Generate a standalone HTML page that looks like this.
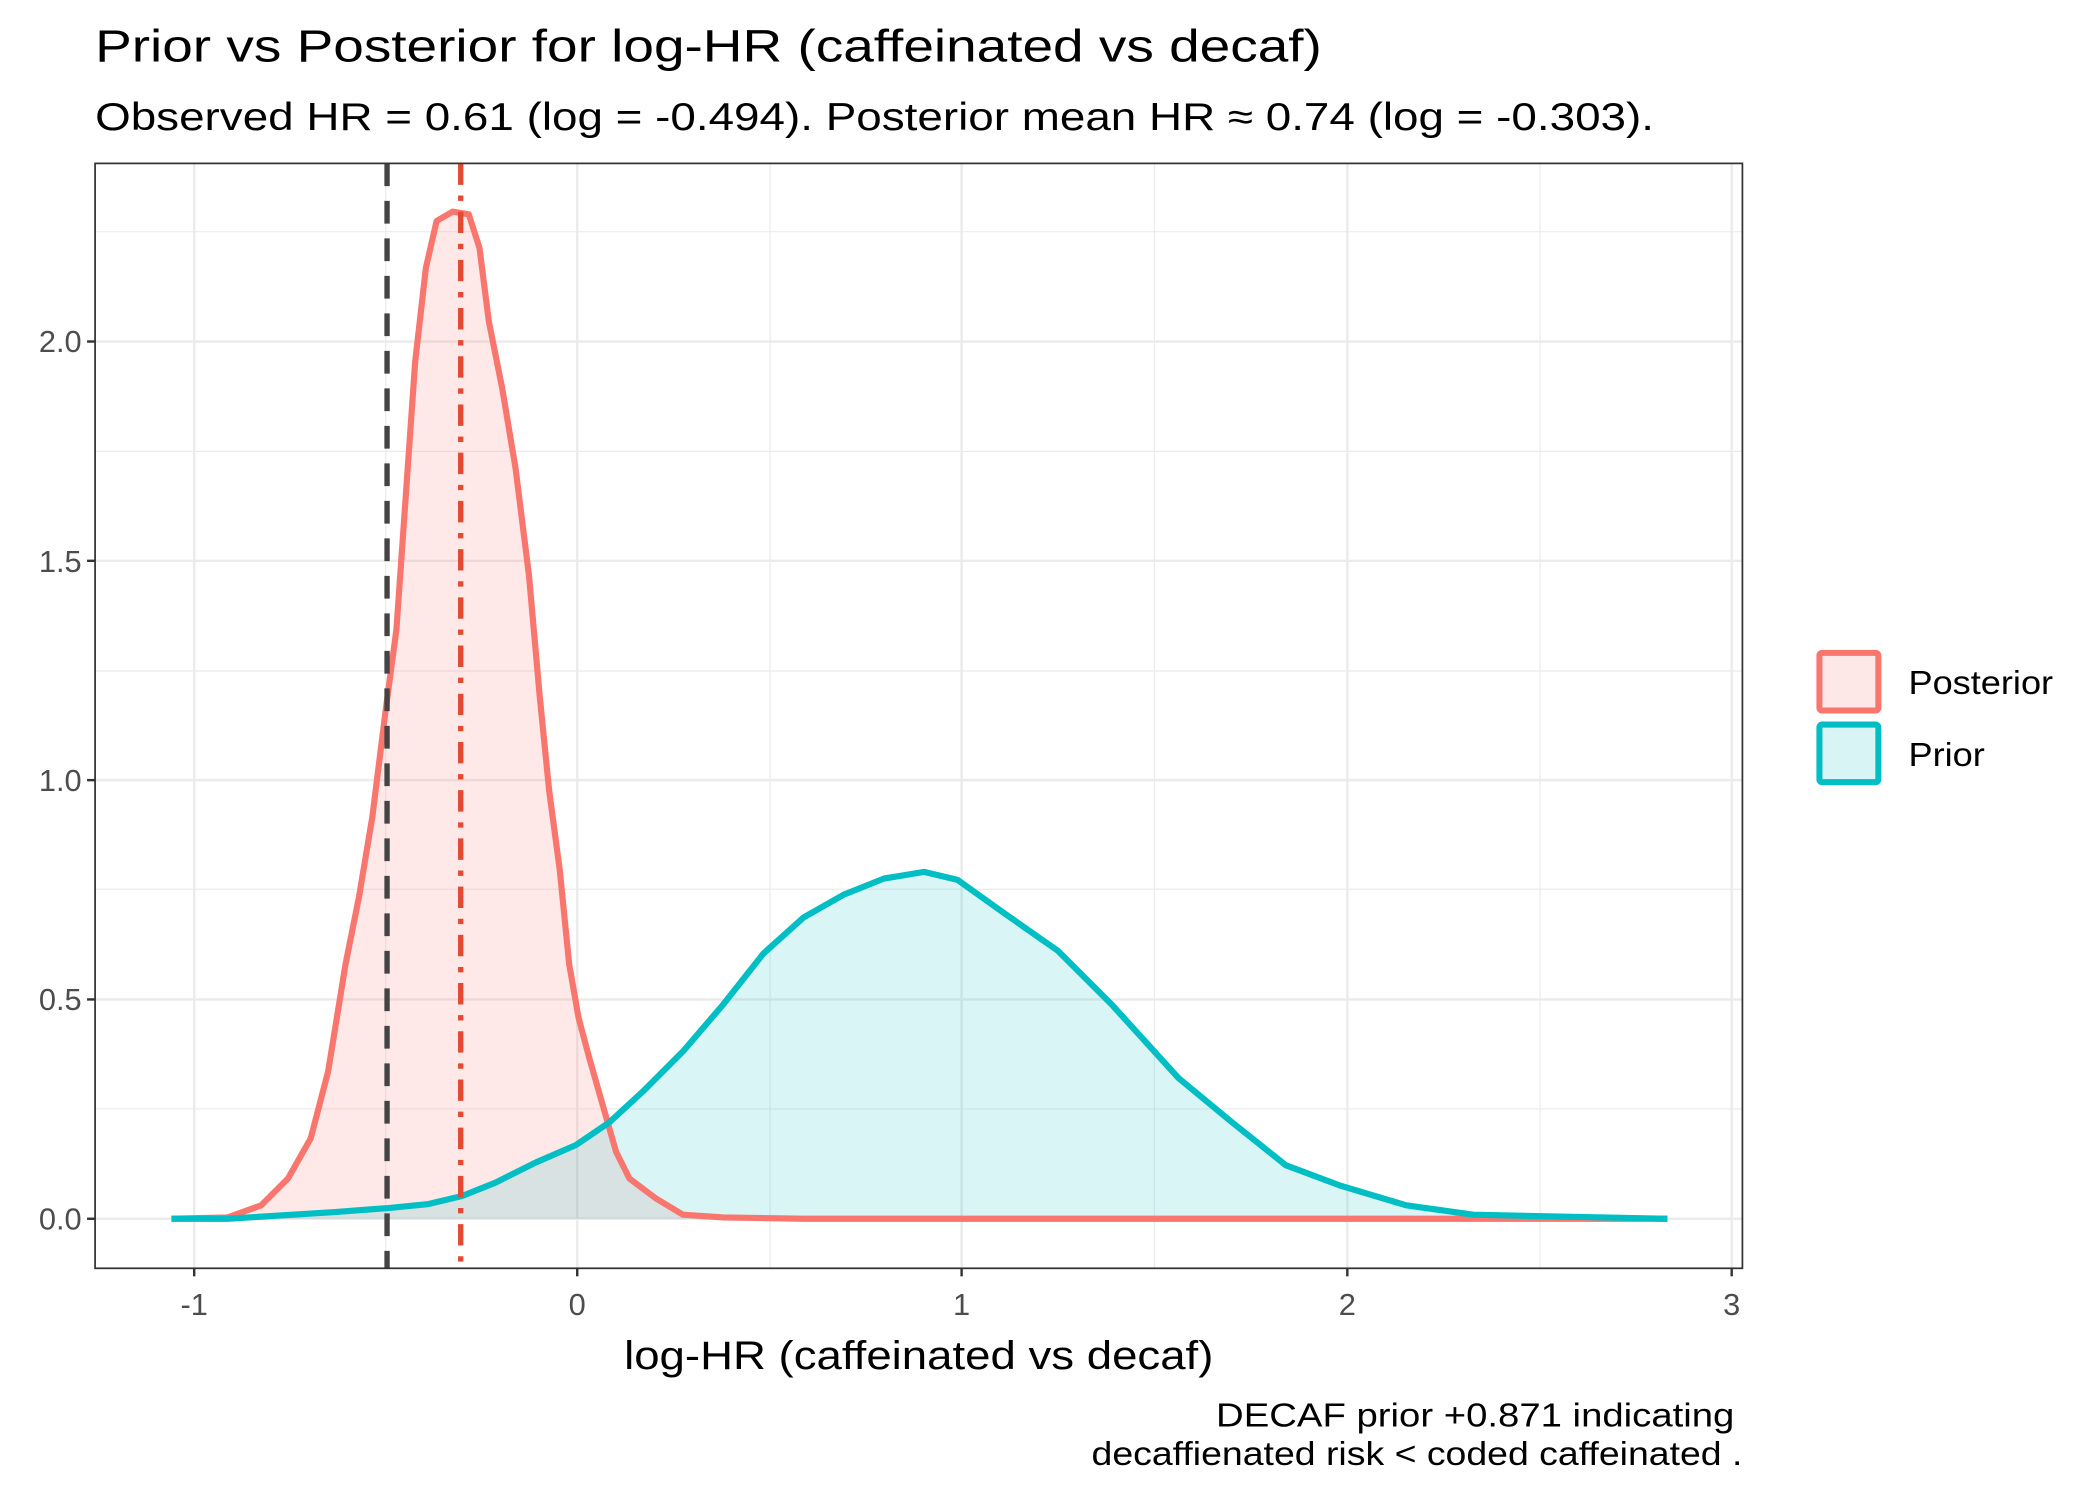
<!DOCTYPE html>
<html><head><meta charset="utf-8"><style>html,body{margin:0;padding:0;background:#fff}svg{display:block}</style></head>
<body>
<svg width="2100" height="1500" viewBox="0 0 1568 1120" preserveAspectRatio="none" xmlns="http://www.w3.org/2000/svg" font-family="Liberation Sans, Arial, sans-serif">
<rect width="1568" height="1120" fill="#fff"/>
<g stroke="#EBEBEB" stroke-width="0.9">
<line x1="288" y1="122" x2="288" y2="947"/><line x1="575" y1="122" x2="575" y2="947"/><line x1="862" y1="122" x2="862" y2="947"/><line x1="1150" y1="122" x2="1150" y2="947"/>
<line x1="71" y1="828" x2="1301" y2="828"/><line x1="71" y1="664" x2="1301" y2="664"/><line x1="71" y1="501" x2="1301" y2="501"/><line x1="71" y1="337" x2="1301" y2="337"/><line x1="71" y1="173" x2="1301" y2="173"/>
</g>
<g stroke="#EBEBEB" stroke-width="1.8">
<line x1="145" y1="122" x2="145" y2="947"/><line x1="431" y1="122" x2="431" y2="947"/><line x1="718" y1="122" x2="718" y2="947"/><line x1="1006" y1="122" x2="1006" y2="947"/><line x1="1293" y1="122" x2="1293" y2="947"/>
<line x1="71" y1="910" x2="1301" y2="910"/><line x1="71" y1="746.25" x2="1301" y2="746.25"/><line x1="71" y1="582.5" x2="1301" y2="582.5"/><line x1="71" y1="418.75" x2="1301" y2="418.75"/><line x1="71" y1="255" x2="1301" y2="255"/>
</g>
<path d="M128,910 L170,909 L195,900 L215,880 L232,850 L245,800 L258,720 L268,670 L278,610 L288,530 L296,470 L303,370 L310,270 L318,200 L326,165 L338,158 L350,160 L358,185 L365,240 L375,290 L385,350 L395,430 L403,520 L410,590 L418,650 L425,720 L432,760 L440,790 L450,825 L460,860 L470,880 L490,895 L510,907 L540,909 L600,910 L1245,910 Z" fill="#F8766D" fill-opacity="0.16" stroke="none"/>
<path d="M128,910 L170,910 L250,905 L290,902 L320,899 L345,893 L370,883 L400,868 L430,855 L455,838 L480,815 L510,785 L540,750 L570,712 L600,685 L630,668 L660,656 L690,651 L715,657 L750,682 L790,710 L830,750 L880,805 L920,838 L960,870 L1000,885 L1050,900 L1100,907 L1245,910 Z" fill="#00BFC4" fill-opacity="0.15" stroke="none"/>
<path d="M128,910 L170,909 L195,900 L215,880 L232,850 L245,800 L258,720 L268,670 L278,610 L288,530 L296,470 L303,370 L310,270 L318,200 L326,165 L338,158 L350,160 L358,185 L365,240 L375,290 L385,350 L395,430 L403,520 L410,590 L418,650 L425,720 L432,760 L440,790 L450,825 L460,860 L470,880 L490,895 L510,907 L540,909 L600,910 L1245,910" fill="none" stroke="#F8766D" stroke-width="4.6" stroke-linejoin="round"/>
<path d="M128,910 L170,910 L250,905 L290,902 L320,899 L345,893 L370,883 L400,868 L430,855 L455,838 L480,815 L510,785 L540,750 L570,712 L600,685 L630,668 L660,656 L690,651 L715,657 L750,682 L790,710 L830,750 L880,805 L920,838 L960,870 L1000,885 L1050,900 L1100,907 L1245,910" fill="none" stroke="#00BFC4" stroke-width="4.6" stroke-linejoin="round"/>
<line x1="289" y1="122" x2="289" y2="947" stroke="#444" stroke-width="4" stroke-dasharray="17 11"/>
<line x1="344" y1="122" x2="344" y2="947" stroke="#E34A33" stroke-width="4" stroke-dasharray="16 8 4 8"/>
<rect x="71" y="122" width="1230" height="825" fill="none" stroke="#333" stroke-width="1.3"/>
<g stroke="#333" stroke-width="1.8">
<line x1="65" y1="910" x2="71" y2="910"/><line x1="65" y1="746.25" x2="71" y2="746.25"/><line x1="65" y1="582.5" x2="71" y2="582.5"/><line x1="65" y1="418.75" x2="71" y2="418.75"/><line x1="65" y1="255" x2="71" y2="255"/>
<line x1="145" y1="947" x2="145" y2="953"/><line x1="431" y1="947" x2="431" y2="953"/><line x1="718" y1="947" x2="718" y2="953"/><line x1="1006" y1="947" x2="1006" y2="953"/><line x1="1293" y1="947" x2="1293" y2="953"/>
</g>
<g font-size="23" fill="#4D4D4D" text-anchor="end">
<text x="61" y="918">0.0</text><text x="61" y="754">0.5</text><text x="61" y="590.5">1.0</text><text x="61" y="427">1.5</text><text x="61" y="263">2.0</text>
</g>
<g font-size="23" fill="#4D4D4D" text-anchor="middle">
<text x="145" y="982">-1</text><text x="431" y="982">0</text><text x="718" y="982">1</text><text x="1006" y="982">2</text><text x="1293" y="982">3</text>
</g>
<text x="71" y="46" font-size="34" fill="#000" textLength="916" lengthAdjust="spacingAndGlyphs">Prior vs Posterior for log-HR (caffeinated vs decaf)</text>
<text x="71" y="97" font-size="29" fill="#000" textLength="1164" lengthAdjust="spacingAndGlyphs">Observed HR = 0.61 (log = -0.494). Posterior mean HR ≈ 0.74 (log = -0.303).</text>
<text x="686" y="1022" font-size="30" fill="#000" text-anchor="middle" textLength="440" lengthAdjust="spacingAndGlyphs">log-HR (caffeinated vs decaf)</text>
<text x="1295" y="1065" font-size="25" fill="#000" text-anchor="end" textLength="387" lengthAdjust="spacingAndGlyphs">DECAF prior +0.871  indicating</text>
<text x="1301" y="1094" font-size="25" fill="#000" text-anchor="end" textLength="486" lengthAdjust="spacingAndGlyphs">decaffienated risk &lt; coded caffeinated .</text>
<rect x="1358.5" y="487.5" width="44" height="43" rx="2" fill="#FDE8E7" stroke="#F8766D" stroke-width="4.5"/>
<rect x="1358.5" y="541" width="44" height="43" rx="2" fill="#D9F4F5" stroke="#00BFC4" stroke-width="4.5"/>
<text x="1425" y="518" font-size="25" fill="#000" textLength="108" lengthAdjust="spacingAndGlyphs">Posterior</text>
<text x="1425" y="572" font-size="25" fill="#000" textLength="57" lengthAdjust="spacingAndGlyphs">Prior</text>
</svg>
</body></html>
